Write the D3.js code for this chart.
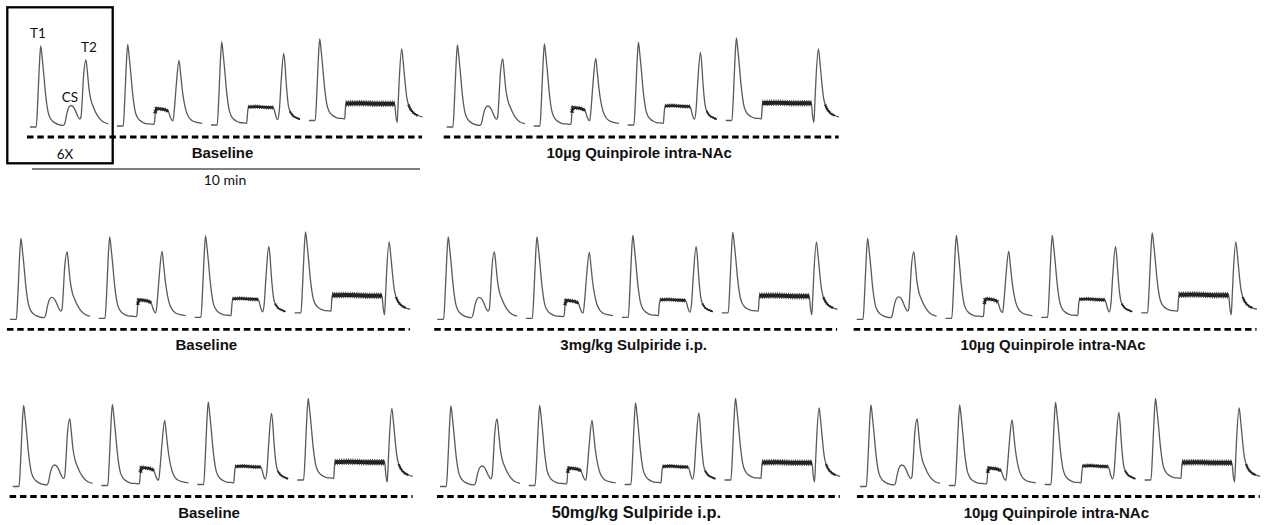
<!DOCTYPE html>
<html>
<head>
<meta charset="utf-8">
<script src="https://cdn.jsdelivr.net/npm/d3@7"></script>
<style>
  body { margin: 0; background: #fff; }
</style>
</head>
<body>
<div id="main"></div>
<script>
const ctx = {
    w: 1265,
    h: 525,
};

// panels: label, row
const panelLabels = ["Baseline", "10µg Quinpirole intra-NAc",
    "Baseline", "3mg/kg Sulpiride i.p.", "10µg Quinpirole intra-NAc",
    "Baseline", "50mg/kg Sulpiride i.p.", "10µg Quinpirole intra-NAc"];
const panelRow = [0, 0, 1, 1, 1, 2, 2, 2];

// peak amplitudes (units above the trace baseline)
const t1Amp = [
    [81, 81.5, 83, 81.5],
    [82, 82, 82.5, 82.5],
    [81, 81.5, 81.5, 81],
    [82.5, 81.5, 82, 80.5],
    [81, 83, 82, 80],
    [81, 81, 82.5, 81.5],
    [80.5, 80, 81.5, 81.5],
    [81.5, 80.5, 82, 81.5]
];
const csAmp = [
    [21.5, 17, 18, 17],
    [21, 18, 19, 17.5],
    [22, 18, 18.5, 17.5],
    [22, 17.5, 17.5, 17],
    [22.5, 19, 18, 18],
    [21.5, 17.5, 18, 18],
    [20.5, 17, 18, 17.5],
    [21.5, 17, 18.5, 17.5]
];
const t2Amp = [
    [67, 65.5, 71.5, 71.5],
    [68, 67.5, 72.5, 71.5],
    [67.5, 67, 71, 71],
    [67.5, 66, 71, 71],
    [67.5, 67, 71, 71],
    [67.5, 65, 71, 71.5],
    [67.5, 65, 71.5, 72],
    [67.5, 65.5, 72, 72]
];

// trace onset inside a panel and baseline drift of each trace
const traceOnset = [0, 87, 181, 279];
const traceDrift = [0, 1, 2, 6.5];

// waveform key points: [time, reference amplitude, fraction]
const t1Head = [[0, "b", 0], [6.2, "b", 0], [7.7, "t1", 0.3], [9.2, "t1", 0.72], [10.7, "t1", 1],
    [12.2, "t1", 0.85], [14, "t1", 0.62], [15.2, "t1", 0.45], [16.7, "t1", 0.29], [18, "t1", 0.19],
    [20.2, "t1", 0.11], [22.7, "t1", 0.07], [25.7, "t1", 0.045], [28.7, "t1", 0.03]];

const waveShort = [[33.5, "t1", 0.02], [35, "cs", 0.2], [36.5, "cs", 0.55], [38.5, "cs", 0.88], [41, "cs", 1],
    [43.5, "cs", 0.93], [45.5, "cs", 0.75], [47.3, "cs", 0.55], [49.7, "cs", 0.37], [51, "t2", 0.15],
    [52.2, "t2", 0.4], [53.5, "t2", 0.75], [56, "t2", 1], [57.5, "t2", 0.8], [59, "t2", 0.57],
    [61, "t2", 0.4], [63.3, "t2", 0.3], [68.3, "t2", 0.15], [72, "t2", 0.09], [75, "t2", 0.063], [78.3, "t2", 0.048]];
const waveTwo = [[33, "t1", 0.025], [37, "t1", 0.02], [37.6, "cs", 0.25], [38.2, "cs", 0.75], [39.3, "cs", 1.03],
    [43.6, "cs", 1], [48, "cs", 0.96], [51.3, "cs", 0.86], [52.6, "cs", 0.65], [53.8, "cs", 0.45],
    [56, "cs", 0.3], [57.5, "t2", 0.28], [59.3, "t2", 0.63], [62, "t2", 1], [63.6, "t2", 0.8],
    [65.3, "t2", 0.55], [67.3, "t2", 0.35], [69.3, "t2", 0.22], [72, "t2", 0.13], [75.3, "t2", 0.08],
    [80, "t2", 0.055], [85.3, "t2", 0.04]];
const waveThree = [[33, "t1", 0.025], [35.7, "t1", 0.02], [36.3, "cs", 0.5], [37.3, "cs", 1], [45, "cs", 1.02],
    [55, "cs", 0.98], [62.3, "cs", 0.97], [63.6, "cs", 0.78], [64.7, "cs", 0.53], [66.7, "cs", 0.3],
    [68.3, "t2", 0.2], [70, "t2", 0.58], [72.7, "t2", 1], [74, "t2", 0.85], [75, "t2", 0.63],
    [76.2, "t2", 0.42], [77.3, "t2", 0.28], [79, "t2", 0.19], [81.3, "t2", 0.14], [85.7, "t2", 0.1], [89, "t2", 0.08]];
const waveLong = [[33, "t1", 0.025], [35.7, "t1", 0.02], [36.2, "cs", 0.5], [36.8, "cs", 1], [50, "cs", 1.02],
    [70, "cs", 0.98], [85.7, "cs", 0.98], [86.8, "cs", 0.3], [88.2, "b", -2], [89.2, "t2", 0.25],
    [90.2, "t2", 0.56], [92.7, "t2", 1], [94, "t2", 0.85], [95, "t2", 0.7], [97.7, "t2", 0.33],
    [99.5, "t2", 0.22], [101, "t2", 0.17], [105, "t2", 0.1], [109, "t2", 0.07], [113.3, "t2", 0.05]];
const waveShapes = [waveShort, waveTwo, waveThree, waveLong];

// noisy stretches of each trace: [from, to, band width]
const noiseSpans = [
    [],
    [[38.2, 52, 4.2]],
    [[37.3, 63, 4.2], [79, 89, 2.4]],
    [[36.8, 86, 6.5], [99.5, 113.3, 2.8]]
];

// layout
const rowBase = [127, 319.3, 486.5];
const rowStretch = [1, 1.02, 1.02];
const panelX0 = [30, 446.7, 10, 437.3, 856.7, 12.7, 440, 860];
const labelSize = [15, 15, 15, 15, 15, 15, 16.4, 15];

function drawPanel(svgEl, p) {
    const row = panelRow[p];
    const x0 = panelX0[p];
    const x = d3.scaleLinear().domain([0, 400]).range([x0, x0 + 400 * rowStretch[row]]);
    const y = d3.scaleLinear().domain([0, 100]).range([rowBase[row], rowBase[row] - 100]);
    const line = d3.line()
        .x(d => x(d.t))
        .y(d => y(d.v))
        .curve(d3.curveMonotoneX);

    const g = svgEl.append("g");

    waveShapes.forEach((shape, k) => {
        const amp = { b: 1, t1: t1Amp[p][k], cs: csAmp[p][k], t2: t2Amp[p][k] };
        const pts = t1Head.concat(shape).map(([t, ref, f]) => ({
            t: traceOnset[k] + t,
            v: traceDrift[k] + f * amp[ref]
        }));

        g.append("path")
            .attr("d", line(pts))
            .attr("fill", "none")
            .attr("stroke", "#5a5a5a")
            .attr("stroke-width", 1.3)
            .attr("stroke-linejoin", "round");

        // recording noise drawn as a dark ragged band
        noiseSpans[k].forEach(([a, b, w]) => {
            const seg = pts.filter(d => d.t - traceOnset[k] >= a && d.t - traceOnset[k] <= b);
            g.append("path")
                .attr("d", line(seg))
                .attr("fill", "none")
                .attr("stroke", "#1a1a1a")
                .attr("stroke-width", w * 0.62);
            g.append("path")
                .attr("d", line(seg))
                .attr("fill", "none")
                .attr("stroke", "#333")
                .attr("stroke-width", w)
                .attr("stroke-dasharray", "0.8,1.4");
        });
    });

    g.append("line")
        .attr("x1", x(-3))
        .attr("x2", x(392))
        .attr("y1", rowBase[row] + 10)
        .attr("y2", rowBase[row] + 10)
        .attr("stroke", "#000")
        .attr("stroke-width", 2.8)
        .attr("stroke-dasharray", "6.5,3.8");

    g.append("text")
        .attr("x", x(192.5))
        .attr("y", rowBase[row] + 31)
        .attr("text-anchor", "middle")
        .style("font-family", "'Liberation Sans', Arial, sans-serif")
        .style("font-weight", "bold")
        .style("font-size", labelSize[p] + "px")
        .style("fill", "#111")
        .text(panelLabels[p]);

    return x;
}

function createViz() {
    const svgEl = d3.select("#main").append("svg")
        .attr("width", ctx.w)
        .attr("height", ctx.h);

    let xTop;
    panelLabels.forEach((_, p) => {
        const x = drawPanel(svgEl, p);
        if (p === 0) xTop = x;
    });

    // 6X inset box with annotations
    svgEl.append("rect")
        .attr("x", 7.3).attr("y", 7.3)
        .attr("width", 105.4).attr("height", 156)
        .attr("fill", "none")
        .attr("stroke", "#000")
        .attr("stroke-width", 2.3);

    const notes = [["T1", 38, 38], ["CS", 70, 102], ["T2", 89, 52], ["6X", 65, 159]];
    svgEl.selectAll(".note")
        .data(notes)
        .enter().append("text")
        .attr("class", "note")
        .attr("x", d => d[1])
        .attr("y", d => d[2])
        .attr("text-anchor", "middle")
        .style("font-family", "Lato, 'Open Sans', sans-serif")
        .style("font-size", "13.5px")
        .style("fill", "#111")
        .text(d => d[0]);

    // 10 min scale bar
    svgEl.append("line")
        .attr("x1", xTop(2)).attr("x2", xTop(390))
        .attr("y1", 169).attr("y2", 169)
        .attr("stroke", "#000")
        .attr("stroke-width", 1);
    svgEl.append("text")
        .attr("x", xTop(195))
        .attr("y", 185)
        .attr("text-anchor", "middle")
        .style("font-family", "Lato, 'Open Sans', sans-serif")
        .style("font-size", "14px")
        .style("fill", "#111")
        .text("10 min");
}

createViz();
</script>
</body>
</html>
